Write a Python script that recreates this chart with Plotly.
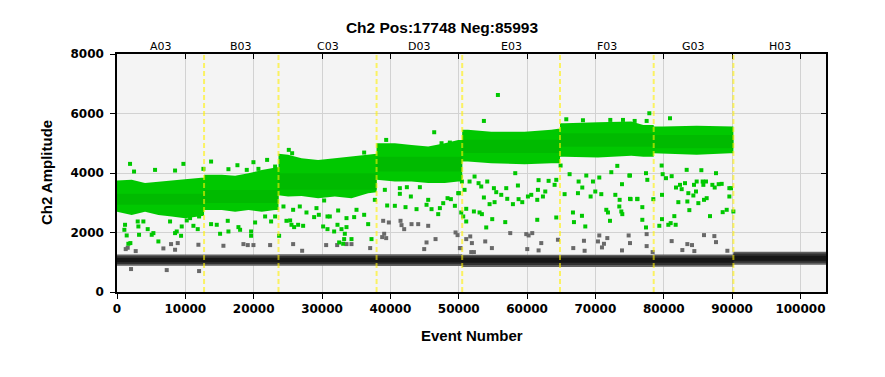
import plotly.graph_objects as go

# ---------------- data ----------------
title_text = "Ch2 Pos:17748 Neg:85993"
wells = ["A03", "B03", "C03", "D03", "E03", "F03", "G03", "H03"]
well_edges = [0, 12740, 23630, 37980, 50510, 64820, 78530, 90190, 103741]

# dense positive cluster: sampled event positions, upper and lower edge amplitude (wells A03..G03)
pos_band_x = [
    [0, 2150, 4100, 6060, 8000, 9950, 11900, 12740],
    [12740, 13380, 15330, 17280, 19240, 21180, 23130, 23630],
    [23630, 25030, 27000, 29430, 31870, 34310, 36750, 37980],
    [37980, 38710, 40660, 43100, 45530, 47970, 49920, 50510],
    [50510, 51340, 54760, 59640, 63540, 64820],
    [64820, 65500, 70380, 75250, 77010, 78530],
    [78530, 79930, 84820, 89700, 90190],
]
pos_band_top = [
    [3750, 3770, 3660, 3715, 3745, 3790, 3830, 3850],
    [3940, 3940, 3940, 3905, 3990, 4100, 4160, 4200],
    [4650, 4610, 4500, 4440, 4500, 4550, 4610, 4650],
    [5000, 5000, 5000, 4945, 4890, 5000, 5110, 5110],
    [5450, 5450, 5390, 5390, 5450, 5500],
    [5670, 5670, 5705, 5730, 5615, 5615],
    [5560, 5560, 5590, 5560, 5560],
]
pos_band_bot = [
    [2700, 2590, 2700, 2590, 2540, 2480, 2540, 2560],
    [2760, 2760, 2760, 2700, 2760, 2700, 2760, 2760],
    [3250, 3210, 3230, 3155, 3210, 3155, 3320, 3350],
    [3770, 3770, 3715, 3715, 3660, 3660, 3715, 3715],
    [4385, 4385, 4330, 4295, 4330, 4330],
    [4550, 4550, 4520, 4580, 4550, 4550],
    [4665, 4665, 4610, 4665, 4665],
]
pos_core_top = [3300, 3430, 3990, 4550, 5115, 5335, 5280]
pos_core_bot = [2930, 2990, 3435, 4050, 4670, 4885, 4830]

# negative cluster per well (A03..H03)
neg_outer_top = [1260, 1260, 1270, 1270, 1250, 1250, 1260, 1350]
neg_outer_bot = [880, 880, 880, 870, 840, 840, 850, 920]
neg_inner_top = [1200, 1200, 1210, 1210, 1200, 1200, 1200, 1290]
neg_inner_bot = [940, 940, 940, 930, 910, 910, 910, 980]
neg_core_top = [1140, 1140, 1150, 1150, 1140, 1140, 1140, 1220]
neg_core_bot = [1000, 1000, 1000, 990, 980, 980, 980, 1050]

# scattered positive droplets
pos_out_event = [
    1908, 2494, 5568, 8496, 9716, 13766, 12644, 16304, 17622, 18988, 19964, 21965, 20696, 23136,
    1176, 1078, 1420, 1664, 1957, 3030, 3128, 3860, 3226, 4494, 5080, 5324, 6056, 7764, 8496,
    8740, 9472, 9374, 10204, 11180, 10692, 11814, 12010, 13766, 14596, 15084, 16304, 16206,
    17768, 18012, 19622, 19622, 20208, 21672, 22550, 23136, 23722, 24356, 25332,
    25137, 25625, 36165, 39386, 46413, 47487, 48707,
    24795, 25527, 25917, 26503, 27235, 25771, 26747, 27723, 28845, 29187, 29529, 30309, 30163,
    30797, 31139, 30797, 31773, 32261, 32359, 32505, 32847, 33091, 33335, 33237, 33579, 33579,
    34311, 34701, 35043, 36165, 36751, 37239, 37727, 39191, 39533, 40655, 41387, 41387, 42412,
    42217, 42997, 43827, 44315, 45291, 45535, 46023, 46999, 47243, 47731, 48365, 48853, 49439,
    49927, 50659,
    55734, 53684, 65738, 68178, 72180, 74034, 75742,
    50268, 50854, 50024, 50464, 51586, 52318, 52904, 53294, 54172, 53684, 54514, 55246, 55148,
    55490, 56222, 56954, 57100, 57930, 58272, 58662, 58760, 59296, 60126, 60614, 61492, 61590,
    61688, 62322, 62664, 63152, 64030, 64274, 64908, 65494, 66226, 66714, 66862, 67446, 67544,
    68080, 68032, 68520, 68666, 69300, 69642, 69984, 70569, 70862, 71594, 71838, 72131, 72326,
    72914, 73204, 73546, 73497, 73790, 73888, 73936, 74961, 75156, 76132, 54026, 54904, 56808,
    61492, 51098, 51098, 52220, 53050, 53392, 50366, 64274,
    77889, 80915, 77499,
    75059, 75059, 76133, 76865, 76865, 77597, 77401, 77401, 78475, 79353, 79695, 79841, 79744,
    79744, 80329, 80671, 81013, 81159, 81549, 81745, 81793, 82135, 82379, 82623, 83111, 83453,
    83599, 83745, 84331, 84429, 84721, 85063, 85502, 85697, 85795, 85893, 86283, 86771, 87113,
    87455, 87649, 88040, 88479, 88625, 89211, 89601, 89845, 89601, 90187, 86185, 84819, 83355,
]
pos_out_amp = [
    4307, 4049, 4105, 4083, 4307, 4385, 4139, 4128, 4262, 4105, 4363, 4441, 4139, 4217,
    2259, 2091, 1901, 1621, 1644, 2371, 2203, 2371, 1923, 2113, 1923, 1979, 1700, 2371, 1979,
    2035, 2203, 1890, 2405, 2225, 2483, 2113, 2539, 2281, 2259, 1957, 2035, 2393,
    2181, 2091, 1890, 2035, 2337, 2539, 2371, 2539, 1890, 2875, 2405,
    4777, 4665, 4687, 5112, 5370, 5001, 5023,
    2393, 2259, 2181, 2259, 2225, 2763, 2875, 2673, 2517, 2819, 2595, 3076, 2203,
    2539, 2539, 2113, 2035, 2259, 2740, 1666, 2113, 1621, 1957, 1778, 2181, 2483,
    1778, 2517, 2763, 2595, 2281, 1778, 3098, 3434, 2908, 2897, 3490, 3300, 3523,
    2852, 3210, 2785, 3523, 2931, 3098, 2785, 2617, 2819, 2986, 3154, 3121, 2897,
    3322, 2539,
    6623, 5750, 5806, 5773, 5784, 5784, 5750,
    3882, 3434, 3322, 3714, 3714, 3882, 3658, 3546, 3714, 3177, 2953, 3020, 3490,
    3356, 3266, 3490, 3132, 2953, 3994, 3580, 3121, 3020, 3210, 3266, 3098, 3434,
    3759, 3210, 3378, 3736, 3602, 3770, 4251, 3289, 3960, 2673, 2349, 3322, 3714,
    3512, 2561, 2203, 3915, 3210, 3714, 3378, 3848, 3289, 2763, 2673, 2393, 4027,
    3266, 4240, 3098, 2875, 2707, 3624, 2617, 3915, 3121, 3121, 2170, 2449, 2349,
    2427, 2371, 2796, 2707, 2673, 2617, 2673, 2505,
    6008, 5840, 5750,
    3915, 3132, 3132, 2852, 2427, 3770, 3994, 2170, 3121, 2226, 4251, 3960, 3266,
    2449, 3826, 2259, 2315, 3893, 2550, 2259, 3512, 3020, 3602, 3457, 3658, 3043,
    3322, 2752, 3244, 3602, 3378, 2987, 4094, 3714, 3602, 3098, 3154, 2550, 3602,
    3512, 3994, 3624, 3635, 2684, 2763, 3490, 3490, 3210, 2707, 3714, 3714, 4106,
]

# scattered negative droplets
neg_out_event = [
    1274, 1566, 2054, 2738, 6788, 7910, 8496, 8886, 7276, 11912, 12010, 15572, 18500, 19134,
    19964, 22404,
    25771, 27089, 30602, 32213, 33579, 34311, 37044, 38947, 39777, 38801, 39093, 39386, 41485,
    41631, 42021, 43095, 44071, 45535, 45291, 46609, 44949, 49537, 49829, 50171,
    57540, 59882, 60224, 60760, 51684, 51098, 51928, 53880, 54854, 50268, 51830, 52222, 60028,
    61688, 62078, 64518, 66762, 68324, 68422, 70374, 70569, 70960, 71742, 71252, 73888, 75059,
    74864,
    77499, 77499, 81159, 82721, 83453, 84137, 84477, 85893, 87405, 87649, 89309, 78377,
]
neg_out_amp = [
    1442, 1487, 771, 1375, 1465, 1610, 1420, 1644, 737, 1588, 704, 1554, 1610, 1577,
    1577, 1577,
    1610, 1386, 1577, 1577, 1610, 1610, 1476, 2393, 2337, 1845, 1957, 1811, 2393,
    2248, 2113, 2281, 2281, 2225, 1666, 1778, 1442, 2002, 1912, 1476,
    1979, 1946, 1901, 1979, 1868, 1778, 1644, 1700, 1476, 1476, 1342, 1342, 1442,
    1398, 1644, 1756, 1476, 1722, 1386, 1700, 1901, 1498, 1812, 1621, 1398, 1644,
    1901,
    1946, 1543, 1711, 1409, 1610, 1577, 1375, 1912, 1879, 1677, 1386, 1342,
]

x_ticks = [0, 10000, 20000, 30000, 40000, 50000, 60000, 70000, 80000, 90000, 100000]
y_ticks = [0, 2000, 4000, 6000, 8000]

# ---------------- helpers ----------------
def flat_bands(tops, bots, n):
    xs, ys = [], []
    for i in range(n):
        x0, x1 = well_edges[i], well_edges[i + 1]
        xs += [x0, x1, x1, x0, x0, None]
        ys += [tops[i], tops[i], bots[i], bots[i], tops[i], None]
    return xs, ys


def edge_bands():
    xs, ys = [], []
    for bx, bt, bb in zip(pos_band_x, pos_band_top, pos_band_bot):
        xs += bx + bx[::-1] + [bx[0], None]
        ys += bt + bb[::-1] + [bt[0], None]
    return xs, ys


fig = go.Figure()

def add_fill(xs, ys, color):
    fig.add_trace(go.Scatter(x=xs, y=ys, mode="lines", fill="toself", fillcolor=color,
                             line=dict(width=0, color=color), hoverinfo="skip",
                             showlegend=False))

# negatives
add_fill(*flat_bands(neg_outer_top, neg_outer_bot, 8), "rgb(95,95,95)")
add_fill(*flat_bands(neg_inner_top, neg_inner_bot, 8), "rgb(48,48,48)")
add_fill(*flat_bands(neg_core_top, neg_core_bot, 8), "rgb(22,22,22)")
fig.add_trace(go.Scatter(x=neg_out_event, y=neg_out_amp, mode="markers",
                         marker=dict(symbol="square", size=4, color="rgb(105,105,105)", line=dict(width=0)),
                         showlegend=False, hoverinfo="skip"))

# positives
add_fill(*edge_bands(), "rgb(0,200,0)")
add_fill(*flat_bands(pos_core_top, pos_core_bot, 7), "rgb(0,186,0)")
fig.add_trace(go.Scatter(x=pos_out_event, y=pos_out_amp, mode="markers",
                         marker=dict(symbol="square", size=4, color="rgb(0,200,0)", line=dict(width=0)),
                         showlegend=False, hoverinfo="skip"))

# invisible trace for mirrored axes
fig.add_trace(go.Scatter(x=[0], y=[0], xaxis="x2", yaxis="y2", mode="markers",
                         marker=dict(opacity=0), showlegend=False, hoverinfo="skip"))

# well separators
for b in well_edges[1:-1]:
    fig.add_shape(type="line", x0=b, x1=b, xref="x", y0=0, y1=1, yref="paper",
                  line=dict(color="rgba(255,240,0,0.6)", width=2, dash="5px,3px"), layer="above")

# well labels
for i, w in enumerate(wells):
    fig.add_annotation(x=(well_edges[i] + well_edges[i + 1]) / 2, xref="x", y=1, yref="paper",
                       yanchor="bottom", yshift=-1, text=w, showarrow=False,
                       font=dict(family="DejaVu Sans", size=11, color="black"))

# axis titles
fig.add_annotation(x=0.5, xref="paper", y=-0.14, yref="paper", yanchor="top",
                   text="Event Number", showarrow=False,
                   font=dict(family="Liberation Sans", size=15, color="black", weight="bold"))
fig.add_annotation(x=-0.1, xref="paper", y=0.5, yref="paper", xanchor="center",
                   text="Ch2 Amplitude", textangle=-90, showarrow=False,
                   font=dict(family="Liberation Sans", size=15, color="black", weight="bold"))

axis_common = dict(showline=True, linecolor="black", linewidth=1.5)
tickfont = dict(family="DejaVu Sans", size=12, color="black", weight="bold")

W, H = 877, 369  # page body has an 8px margin
fig.update_layout(
    width=W, height=H,
    margin=dict(l=109, r=59, t=46, b=85),
    paper_bgcolor="white", plot_bgcolor="rgb(244,244,244)",
    title=dict(text=title_text, x=434 / W, xref="container", xanchor="center",
               y=1 - 20 / H, yref="container", yanchor="middle",
               font=dict(family="Liberation Sans", size=15.5, color="black", weight="bold")),
    xaxis=dict(range=[0, well_edges[-1]], tickvals=x_ticks, ticktext=[str(t) for t in x_ticks],
               ticks="outside", ticklen=5, tickcolor="black", showgrid=True,
               gridcolor="rgb(210,210,210)", gridwidth=1, zeroline=False, tickfont=tickfont,
               **axis_common),
    yaxis=dict(range=[0, 8000], tickvals=y_ticks, ticktext=[str(t) for t in y_ticks],
               ticks="outside", ticklen=5, tickcolor="black", showgrid=True,
               gridcolor="rgb(210,210,210)", gridwidth=1, zeroline=False, tickfont=tickfont,
               ticklabelstandoff=4, **axis_common),
    xaxis2=dict(overlaying="x", side="top", range=[0, well_edges[-1]], tickvals=x_ticks,
                ticks="inside", ticklen=5, tickcolor="black", showticklabels=False,
                showgrid=False, zeroline=False, **axis_common),
    yaxis2=dict(overlaying="y", side="right", range=[0, 8000], tickvals=y_ticks,
                ticks="inside", ticklen=5, tickcolor="black", showticklabels=False,
                showgrid=False, zeroline=False, **axis_common),
)

fig.write_html("out.html")
